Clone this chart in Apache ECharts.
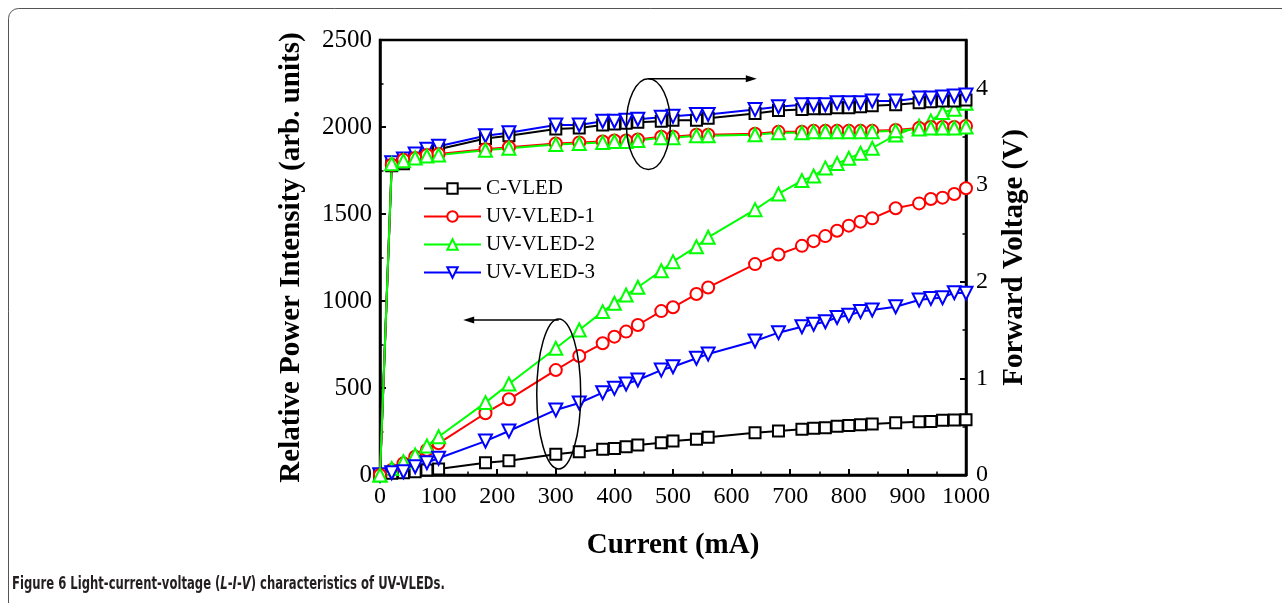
<!DOCTYPE html>
<html>
<head>
<meta charset="utf-8">
<script src="https://cdn.jsdelivr.net/npm/echarts@6/dist/echarts.min.js"></script>
<style>
html,body{margin:0;padding:0;background:#fff;}
#chart{width:1282px;height:603px;}
</style>
</head>
<body>
<div id="chart"></div>
<script>
// ---- data ----
var current = [0,20,40,60,80,100,180,220,300,340,380,400,420,440,480,500,540,560,640,680,720,740,760,780,800,820,840,880,920,940,960,980,1000];
var seriesNames = ['C-VLED','UV-VLED-1','UV-VLED-2','UV-VLED-3'];
var intensityC  = [0,10,13,19,29,34,71,82,119,134,148,153,163,172,186,195,205,217,243,253,263,268,272,280,284,289,293,300,306,308,314,316,317];
var intensity1  = [0,29,67,105,144,182,355,435,603,684,757,795,824,862,942,964,1040,1078,1212,1267,1317,1344,1373,1404,1433,1456,1475,1533,1561,1586,1594,1615,1648];
var intensity2  = [0,38,76,115,167,220,416,523,728,833,939,987,1034,1079,1174,1226,1312,1366,1525,1615,1692,1718,1765,1790,1820,1849,1878,1954,2005,2035,2083,2102,2136];
var intensity3  = [0,13,19,48,71,96,195,253,374,414,473,498,523,546,603,622,671,695,770,818,852,866,881,905,918,939,948,967,1006,1015,1019,1048,1045];
var voltageC = [0,3.20,3.22,3.28,3.33,3.37,3.48,3.51,3.58,3.59,3.62,3.63,3.64,3.65,3.66,3.67,3.67,3.69,3.74,3.77,3.78,3.79,3.79,3.80,3.80,3.81,3.82,3.83,3.85,3.86,3.87,3.87,3.88];
var voltage1 = [0,3.21,3.26,3.28,3.31,3.32,3.37,3.39,3.43,3.44,3.45,3.46,3.46,3.47,3.50,3.50,3.52,3.52,3.53,3.55,3.55,3.56,3.56,3.56,3.56,3.56,3.56,3.57,3.59,3.60,3.60,3.60,3.61];
var voltage2 = [0,3.22,3.25,3.28,3.30,3.31,3.36,3.38,3.42,3.43,3.44,3.45,3.45,3.46,3.49,3.49,3.51,3.51,3.52,3.54,3.54,3.55,3.55,3.55,3.55,3.55,3.55,3.56,3.58,3.59,3.59,3.59,3.60];
var voltage3 = [0,3.23,3.27,3.32,3.37,3.40,3.51,3.54,3.62,3.62,3.66,3.66,3.67,3.68,3.70,3.71,3.73,3.73,3.78,3.81,3.83,3.83,3.83,3.85,3.85,3.85,3.87,3.87,3.90,3.90,3.91,3.92,3.93];
var xTicks = {min:0, max:1000, interval:100};
var yLeftTicks = {min:0, max:2500, interval:500};
var yRightTicks = {min:0, max:4.5, interval:1};
var xTitle = 'Current (mA)';
var yLeftTitle = 'Relative Power Intensity (arb. units)';
var yRightTitle = 'Forward Voltage (V)';
var caption = 'Figure 6 Light-current-voltage ({it|L}-{it|I}-{it|V}) characteristics of UV-VLEDs.';

// ---- styles ----
var colors = ['#000000','#ff0000','#00ff00','#0000ff'];
var symbols = ['rect','circle','triangle','triangle'];
var rotations = [0,0,0,180];
var sizes = [11,12,13,13];
var intensities = [intensityC,intensity1,intensity2,intensity3];
var voltages = [voltageC,voltage1,voltage2,voltage3];
var intensityOrder = [0,1,2,3];
var voltageOrder = [0,3,1,2];
var serif = "'Liberation Serif','Times New Roman',serif";

function pairs(xs, ys){ return xs.map(function(x,i){ return [x, ys[i]]; }); }

var series = [];
[[0, intensities, intensityOrder],[1, voltages, voltageOrder]].forEach(function(cfg){
  var axisIdx = cfg[0], src = cfg[1];
  cfg[2].forEach(function(i){
    series.push({
      name: seriesNames[i],
      type: 'line',
      yAxisIndex: axisIdx,
      data: pairs(current, src[i]),
      symbol: symbols[i],
      symbolRotate: rotations[i],
      symbolSize: sizes[i],
      showAllSymbol: true,
      clip: true,
      lineStyle: {color: colors[i], width: 2},
      itemStyle: {color: '#ffffff', borderColor: colors[i], borderWidth: 2},
      emphasis: {disabled: true},
      animation: false
    });
  });
});

var axisCommon = {
  axisLine: {show: true, onZero: false, lineStyle: {color: '#000', width: 2.5}},
  axisTick: {show: true, inside: true, length: 6, lineStyle: {color: '#000', width: 2}},
  minorTick: {show: true, splitNumber: 2, length: 3.5, lineStyle: {color: '#000', width: 1.5}},
  splitLine: {show: false},
  nameTextStyle: {color: '#000', fontFamily: serif, fontSize: 29, fontWeight: 'bold'}
};
function axis(extra){ return Object.assign(JSON.parse(JSON.stringify(axisCommon)), extra); }
function plain(v){ return String(v); }

var chart = echarts.init(document.getElementById('chart'), null, {renderer: 'canvas'});
var option = {
  animation: false,
  backgroundColor: '#ffffff',
  grid: {left: 380, right: 316, top: 40, bottom: 128, show: true, borderColor: '#000', borderWidth: 2.5, backgroundColor: 'transparent'},
  legend: {
    data: seriesNames,
    orient: 'vertical',
    left: 423, top: 178,
    itemWidth: 57, itemHeight: 13, itemGap: 7,
    padding: 0,
    selectedMode: false,
    textStyle: {color: '#000', fontFamily: serif, fontSize: 21, lineHeight: 21}
  },
  xAxis: axis({
    type: 'value', min: xTicks.min, max: xTicks.max, interval: xTicks.interval,
    name: xTitle, nameLocation: 'middle', nameGap: 56,
    axisLabel: {color: '#000', fontFamily: serif, fontSize: 24, margin: 10, formatter: plain}
  }),
  yAxis: [
    axis({
      type: 'value', min: yLeftTicks.min, max: yLeftTicks.max, interval: yLeftTicks.interval,
      position: 'left',
      name: yLeftTitle, nameLocation: 'middle', nameGap: 74, nameRotate: 90,
      axisLabel: {color: '#000', fontFamily: serif, fontSize: 25, margin: 8, formatter: plain}
    }),
    axis({
      type: 'value', min: yRightTicks.min, max: yRightTicks.max, interval: yRightTicks.interval,
      position: 'right',
      name: yRightTitle, nameLocation: 'middle', nameGap: 34, nameRotate: 90,
      axisLabel: {color: '#000', fontFamily: serif, fontSize: 24, margin: 10, showMaxLabel: false,
        formatter: function(v){ return (v % 1 === 0) ? String(v) : ''; }}
    })
  ],
  series: series
};
chart.setOption(option);

// ---- annotations (placed in data coordinates) ----
var lowerEllipse = {x: 305, y: 466, rx: 37.5, ry: 431, arrowY: 891, arrowTo: 142};
var upperEllipse = {x: 458, y: 3.63, rx: 37.5, ry: 0.47, arrowY: 4.10, arrowTo: 643};

function px(v){ return chart.convertToPixel({xAxisIndex: 0}, v); }
function pyL(v){ return chart.convertToPixel({yAxisIndex: 0}, v); }
function pyR(v){ return chart.convertToPixel({yAxisIndex: 1}, v); }

function ellipseGraphic(e, yf){
  var cx = px(e.x), cy = yf(e.y);
  var rx = px(e.x + e.rx) - cx, ry = Math.abs(yf(e.y + e.ry) - cy);
  return {type: 'ellipse', shape: {cx: cx, cy: cy, rx: rx, ry: ry}, style: {fill: 'none', stroke: '#000', lineWidth: 1.5}, z: 100};
}
function arrowGraphic(xFrom, xTo, yVal, yf){
  var x1 = px(xFrom), x2 = px(xTo), y = yf(yVal);
  var dir = x2 > x1 ? 1 : -1;
  return [
    {type: 'line', shape: {x1: x1, y1: y, x2: x2 - dir * 8, y2: y}, style: {stroke: '#000', lineWidth: 1.5}, z: 100},
    {type: 'polygon', shape: {points: [[x2, y], [x2 - dir * 11, y - 3.5], [x2 - dir * 11, y + 3.5]]}, style: {fill: '#000'}, z: 100}
  ];
}

var capFont = "'DejaVu Sans Condensed','Liberation Sans Narrow','Liberation Sans',sans-serif";
var graphics = [
  {type: 'rect', shape: {x: 8.5, y: 8.5, width: 1300, height: 620, r: 10}, style: {fill: 'none', stroke: '#555', lineWidth: 1}, z: 0},
  ellipseGraphic(lowerEllipse, pyL),
  ellipseGraphic(upperEllipse, pyR),
  {
    type: 'text', x: 12, y: 585, scaleX: 0.76, z: 100,
    style: {
      text: caption,
      font: "bold 17px " + capFont,
      fill: '#231f20',
      verticalAlign: 'middle',
      rich: {it: {fontStyle: 'italic', fontWeight: 'bold', fontSize: 17, fontFamily: capFont, fill: '#231f20'}}
    }
  }
].concat(arrowGraphic(lowerEllipse.x, lowerEllipse.arrowTo, lowerEllipse.arrowY, pyL))
 .concat(arrowGraphic(upperEllipse.x, upperEllipse.arrowTo, upperEllipse.arrowY, pyR));

chart.setOption({graphic: graphics});
</script>
</body>
</html>
